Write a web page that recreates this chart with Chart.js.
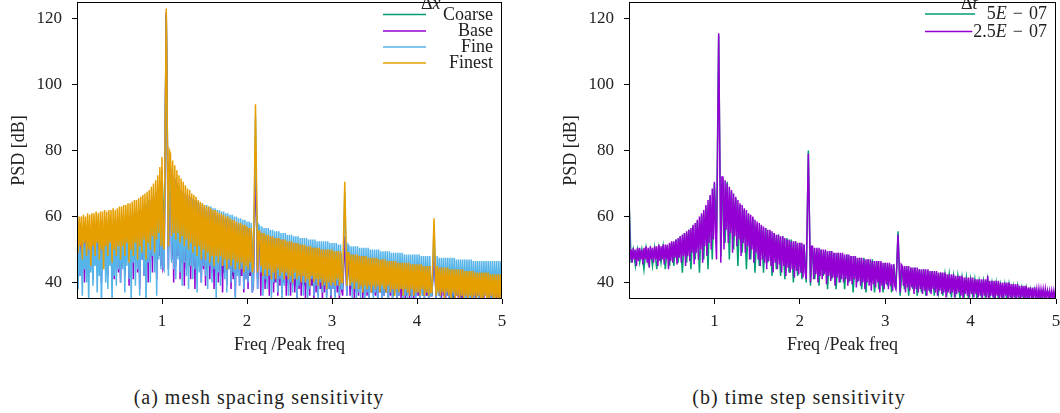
<!DOCTYPE html>
<html>
<head>
<meta charset="utf-8">
<script src="https://cdn.jsdelivr.net/npm/chart.js@4.4.1/dist/chart.umd.min.js"></script>
<style>
  body { margin: 0; background: #fff; width: 1060px; height: 413px; position: relative; overflow: hidden; font-family: "Liberation Serif", serif; }
  canvas { position: absolute; top: 0; }
  #mesh { left: 0; }
  #step { left: 552px; }
  .cap { position: absolute; top: 386px; font-size: 20px; letter-spacing: 1px; color: #222; white-space: nowrap; transform: translateX(-50%); }
</style>
</head>
<body>
<canvas id="mesh" width="515" height="362"></canvas>
<canvas id="step" width="508" height="362"></canvas>
<div class="cap" style="left:259px">(a) mesh spacing sensitivity</div>
<div class="cap" style="left:799px">(b) time step sensitivity</div>
<script>
// frequency bins (Freq / Peak freq), 0 .. 5
const freqFine = Array.from({ length: 401 }, (_, i) => Math.round(i * 125) / 10000);
const freqWide = Array.from({ length: 201 }, (_, i) => Math.round(i * 25) / 1000);
const xTicks = [1, 2, 3, 4, 5];
const yTicks = [40, 60, 80, 100, 120];

// (a) mesh spacing, PSD [dB] on freqFine
const finest = [
  59,49,60,51,60,47,60.5,52,60,48,61,50,60.5,45,61,51,61,48,61.5,52,61,47,61.5,50,61.5,44,62,51,61.5,48,62,52,62,46,62.5,50,62,48,62.5,51,
  63,47,63,51,63.5,48,63.5,52,64,46,64,50,64.5,48,65,52,65,47,65.5,51,66,49,66.5,53,67,47,67.5,52,68,50,69,54,70,49,71,53,72.5,55,75,51,
  78,52,50,86,123,86,51,80,79,54,77,55,75.5,53,74,55,72.5,52,71.5,54,70.5,51,69.5,53,68.5,50,68,52,67,49,66.5,51,66,48,65,51,64.5,47,64,50,
  63.5,47,63,49,63,46,62.5,48,62,45,62,48,61.5,46,61,48,61,45,60.5,47,60,44,60,47,59.5,45,59,47,59,44,58.5,46,58,44,58,46,57.5,43,57.5,45,
  57,44,56.5,46,56.5,43,45,70,94,69,43,55.5,55.5,45,55,42,55,44,54.5,42,54.5,44,54,41,54,43,53.5,41,53.5,44,53.5,42,53,43,53,41,53,43,52.5,41,
  52.5,42,52.5,40,52,43,52,41,52,42,51.5,40,51.5,42,51.5,40,51,41,51,39,51,42,50.5,40,50.5,41,50.5,39,50.5,41,50,39,50,40,50,38,50,40,50,39,
  50,40,49.5,39,49.5,41,49.5,39,49.5,40,40,55,70.5,55,39,49,49,39,48.5,40,48.5,38,48.5,40,48.5,38,48,39,48,37,48,39,48,38,47.5,39,47.5,37,47.5,39,
  47.5,38,47.5,39,47,37,47,39,47,38,47,37,46.5,39,46.5,37,46.5,38,46.5,36,46.5,38,46,37,46,38,46,36,46,38,46,37,46,36,45.5,38,45.5,36,45.5,37,
  45.5,37,45.5,36,45.5,38,45,36,45,37,45,36,45,37,37,48,59.5,48,36,45,37,44.5,36,44.5,37,44.5,35,44.5,37,44.5,36,44,35,44,37,44,35,44,36,44,35,
  44,36,44,35,43.5,36,43.5,35,43.5,36,43.5,34,43.5,36,43,35,43,36,43,34,43,35,43,36,43,34,43,35,42.5,36,42.5,34,42.5,35,42.5,34,42.5,35,42.5,34,
  42.5
];
const fine = [
  50,38,53,42,51,36,54,44,52,40,55,34,53,43,54,39,52,45,55,37,53,42,55,33,54,44,56,40,54,38,56,45,55,34,57,42,55,39,57,44,
  57,40,58,44,58,37,59,45,59,41,60,34,60,46,61,39,61,44,62,36,62,47,63,42,63,33,64,46,65,40,65,48,66,43,67,36,69,47,71,44,
  74,45,44,82,120,82,42,76,74,46,72,44,71,41,70,47,69,43,68,39,67.5,46,67,42,66.5,38,66,45,65.5,41,65,44,65,37,64.5,43,64,40,64,45,
  63.5,42,63.5,38,63,45,63,40,62.5,44,62.5,35,62,43,62,39,61.5,45,61.5,41,61,37,61,44,60.5,40,60.5,43,60,35,60,42,59.5,39,59.5,44,59,38,59,41,
  58.5,40,58.5,43,58,37,40,65,90,65,38,57.5,57,43,57,36,56.5,41,56.5,38,56.5,42,56,35,56,40,55.5,43,55.5,37,55.5,41,55,34,55,39,55,42,54.5,36,
  54.5,40,54.5,37,54,41,54,34,54,39,53.5,42,53.5,36,53.5,40,53.5,33,53,38,53,41,53,36,53,39,52.5,34,52.5,40,52.5,37,52.5,39,52.5,34,52.5,38,52,36,
  52,38,52,35,52,39,51.5,36,51.5,38,38,52,67,52,36,51.5,51,39,51,35,51,38,51,33,51,37,50.5,35,50.5,38,50.5,34,50.5,37,50.5,35,50,38,50,34,
  50,37,50,35,50,38,49.5,34,49.5,36,49.5,38,49.5,33,49.5,37,49,35,49,37,49,34,49,36,49,38,49,34,48.5,36,48.5,35,48.5,37,48.5,33,48.5,36,48.5,35,
  48.5,37,48.5,34,48,36,48,35,48,37,48,33,48,36,36,46,57,46,35,48,36,47.5,35,47.5,37,47.5,34,47.5,36,47.5,35,47.5,33,47.5,36,47.5,34,47,36,47,35,
  47,36,47,34,47,35,47,36,47,33,47,35,46.5,34,46.5,36,46.5,35,46.5,33,46.5,35,46.5,36,46.5,34,46.5,35,46.5,33,46.5,35,46.5,36,46.5,34,46.5,35,46.5,34,
  46.5
];
const base = [
  67,46,55,42,54.5,48,55,40,54.5,47,55,43,55,49,55.5,41,55,46,55.5,44,55.5,48,56,40,55.5,45,56,47,56,42,56.5,49,56,44,56.5,41,56.5,47,57,43,
  57,40,57.5,47,58,42,58.5,48,59,39,59.5,46,60,41,60.5,49,61,43,61.5,38,62,47,62.5,42,63,49,63.5,40,64,46,65,43,66,50,67,41,68.5,48,70.5,45,
  73,44,45,83,122,83,44,76,74,47,72.5,40,71.5,45,70,48,69,41,68,46,67.5,39,67,44,66.5,47,66,41,65.5,45,65,38,64.5,44,64,46,63.5,40,63,44,
  62.5,39,62,45,62,41,61.5,43,61,38,61,44,60.5,40,60.5,42,60,37,59.5,43,59.5,39,59,44,58.5,38,58.5,41,58,36,58,43,57.5,39,57.5,42,57,37,57,41,
  56.5,38,56.5,42,56,37,39,59,79,59,38,55.5,55,36,55,41,54.5,38,54.5,40,54,36,54,41,54,37,53.5,40,53.5,36,53,39,53,37,53,40,52.5,36,52.5,39,
  52.5,36,52,39,52,37,52,35,51.5,38,51.5,36,51.5,39,51,35,51,38,51,36,50.5,39,50.5,35,50.5,37,50.5,36,50,38,50,35,50,37,50,36,49.5,38,49.5,35,
  49.5,38,49.5,36,49,37,49,35,49,38,36,45,54,45,36,49,48.5,36,48.5,38,48.5,35,48.5,37,48,36,48,38,48,35,48,37,48,36,47.5,35,47.5,37,47.5,36,
  47.5,36,47.5,35,47,37,47,35,47,36,46.5,37,46.5,35,46.5,36,46.5,35,46,37,46,35,46,36,46,35,46,37,45.5,35,45.5,36,45.5,35,45.5,36,45.5,35,45.5,36,
  45.5,36,45,35,45,37,45,35,45,36,45,35,44.5,36,36,43,50,43,35,44.5,44.5,36,44.5,35,44,36,44,35,44,36,44,35,44,36,44,35,43.5,36,43.5,35,
  43.5,35.5,43.5,35,43.5,36,43,35,43,36,43,35,43,35.5,43,35,43,36,42.5,35,42.5,35.5,42.5,35,42.5,36,42.5,35,42.5,35.5,42.5,35,42.5,36,42.5,35,42.5,35.5,42.5,35,
  42.5
];
// on freqWide, mostly hidden under the finer meshes
const coarse = [
  36,45,54,47,53,46,54,45,54,48,54,46,55,47,55,46,55,47,55,46,
  56,45,57,46,58,45,59,47,60,46,61,47,62,46,63,48,65,47,68,48,
  74,50,121,50,75,48,71,48,68,46,66,47,65,45,64,46,63,45,62,46,
  61.5,44,61,45,60.5,43,60,44,59.5,43,59,44,58.5,42,58,43,57.5,42,57,43,
  56.5,42,56,42,78,41,54.5,42,54,41,53.5,41,53,40,53,41,52.5,40,52,40,
  52,40,51.5,39,51.5,40,51,39,51,40,50.5,39,50.5,39,50,38,50,39,49.5,38,
  49.5,39,49,38,49,39,53,38,48.5,38,48.5,38,48,38,48,37,47.5,38,47.5,37,
  47.5,37,47,37,47,37,46.5,37,46.5,36,46,37,46,36,46,36,45.5,36,45.5,36,
  45.5,36,45,36,45,36,45,36,49,36,44.5,36,44.5,35,44,36,44,35,44,36,
  43.5,35,43.5,36,43.5,35,43,36,43,35,43,35,42.5,36,42.5,35,42.5,35,42,35,
  42
];

// (b) time step, PSD [dB]
const dt25 = [
  68,47,50,46,50.5,47,50,45,50.5,46.5,50.5,47,50,45.5,50.5,47,51,46,50.5,44.5,51,47,50.5,46,51,47,51,45,51.5,46.5,51,47,51.5,45.5,51.5,47,51.5,44,52,46.5,
  52.5,46,52.5,47.5,53,45.5,53.5,47.5,54,46,54.5,48,55,45,55.5,48,56,46.5,56.5,49,57.5,45.5,58,49,59,47,60,50,61,46,62,51,63.5,48,65,52,66.5,50,68.5,53,
  70.5,55,47,81,115.5,81,46,72,72,50,71,56,70,52,69,55,68,49,67,54,66,51,65,53,64,48,63.5,52,62.5,49,62,51,61,47,60.5,50,60,46,59,49,
  58.5,47,58,45,57.5,47,57,46,56.5,44,56,46.5,56,45,55.5,43,55,46,54.5,44,54.5,45.5,54,43,54,45,53.5,42,53,44.5,53,43,52.5,44,52.5,41.5,52.5,43.5,52,42.5,
  52,43,52,41.5,51.5,43,41,60,79,60,40,51,51,41,50.5,42.5,50.5,40,50.5,42,50,41,50,42.5,50,39.5,49.5,42,49.5,40.5,49.5,41.5,49,39,49,41.5,49,40,49,41,
  49,40,48.5,41,48.5,39,48.5,40.5,48,39.5,48,41,48,38.5,47.5,40.5,47.5,39,47.5,40,47,38,47,40,47,39,47,37.5,46.5,39.5,46.5,38.5,46.5,40,46.5,37,46.5,39,46,38,
  46,39.5,46,38,46,39,45.5,37.5,45.5,39,38,46,54.5,46,37,45.5,45,39,45,37,45,38.5,45,37.5,44.5,38.5,44.5,36.5,44.5,38,44.5,37,44,38,44,36.5,44,37.5,44,36,
  44,37.5,43.5,36.5,43.5,38,43.5,37,43.5,36,43,37.5,43,36.5,43,37,43,35.5,42.5,37,42.5,36.5,42.5,37,42.5,35.5,42,36.5,42,37,42,36,42,35,41.5,36.5,41.5,36,41.5,35.5,
  41.5,36.5,41.5,35.5,41,36.5,41,35.5,41,36,41,35,41,36,41,35.5,42,35,40.5,36,40.5,35.5,40.5,35,40.5,36,40.5,35,40,35.5,40,35,40,36,40,35,40,35.5,39.5,35,
  39.5,35.5,39.5,35,39.5,35.5,39,35,39,35.5,39,35,39,35,38.5,35.5,38.5,35,38.5,35,38.5,35.5,38,35,38,35,38,35.5,38,35,38,35,37.5,35.5,37.5,35,37.5,35,37.5,35,
  37.5
];
// on freqWide, under the 2.5E-07 run
const dt5 = [
  66,46,50,45,50,46,50,44,50.5,46,50,45,50.5,44,50.5,46,51,44,51,45,
  52,45,53,46,54,43,55,46,56,44,57,47,58.5,43,60.5,47,63,44,66,47,
  70,55,115,48,71.5,52,70.5,47,67.5,50,65.5,45,63.5,49,62,44,60.5,47,59.5,43,
  57.5,45,57,43,56.5,46,55.5,42,55,44,54.5,42,54,41,53.5,43,53,40,52.5,42,
  52,41,51.5,40,80,39,50.5,41,50,39,50,42,49.5,38,49.5,41,49,38,49,40,
  48.5,38,48.5,40,48,37,48,40,47.5,38,47.5,37,47,40,47,37,46.5,38,46,37,
  46,39,45.5,37,45.5,38,55.5,36,45,38,45,36,44.5,38,44.5,36,44,37,44,36,
  43.5,37,43.5,36,43,37,43,36,42.5,37,42.5,35.5,42,36.5,42,35,41.5,36,41.5,35,
  41,36,41,35,40.5,36,40.5,35,41,35.5,40,35,40,35,39.5,35,39.5,34,39.5,35,
  39,35,39,34,38.5,35,38.5,34,38,35,38,34,37.5,35,37.5,34,37.5,35,37,34,
  37
];

const TICK_FONT = { family: '"Liberation Serif", serif', size: 17 };
const TITLE_FONT = { family: '"Liberation Serif", serif', size: 18 };
const INK = '#222';

const points = (grid, vals) => {
  if (grid.length !== vals.length) console.error('length mismatch', grid.length, vals.length);
  return vals.map((v, i) => ({ x: grid[i], y: v }));
};

const framePlugin = {
  id: 'frame',
  afterDraw(chart) {
    const { ctx, chartArea: a } = chart;
    ctx.save();
    ctx.strokeStyle = '#000';
    ctx.lineWidth = 1;
    const l = Math.round(a.left) + 0.5, t = Math.round(a.top) + 0.5;
    const r = Math.round(a.right) - 0.5, b = Math.round(a.bottom) - 0.5;
    ctx.strokeRect(l, t, r - l, b - t);
    ctx.restore();
  }
};

// right-aligned label, "E" set in italic like the TeX original; returns left edge
function drawLabel(ctx, text, right, y) {
  const parts = text.split(/(E)/).filter((p) => p.length);
  const fontOf = (p) => (p === 'E' ? 'italic ' : '') + '18px "Liberation Serif"';
  let total = 0;
  parts.forEach((p) => { ctx.font = fontOf(p); total += ctx.measureText(p).width; });
  let x = right - total;
  const left = x;
  ctx.textAlign = 'left';
  parts.forEach((p) => { ctx.font = fontOf(p); ctx.fillText(p, x, y); x += ctx.measureText(p).width; });
  return left;
}

const texLegend = {
  id: 'texLegend',
  afterDraw(chart, args, o) {
    const ctx = chart.ctx;
    ctx.save();
    ctx.fillStyle = INK;
    ctx.textBaseline = 'alphabetic';
    ctx.textAlign = 'left';
    ctx.font = '18px "Liberation Serif"';
    ctx.fillText(o.title[0], o.titleX, o.titleY);
    const w = ctx.measureText(o.title[0]).width;
    ctx.font = 'italic 18px "Liberation Serif"';
    ctx.fillText(o.title[1], o.titleX + w, o.titleY);
    o.order.forEach((di, k) => {
      const ds = chart.data.datasets[di];
      const y = o.rows[k];
      const left = drawLabel(ctx, ds.label, o.textRight, y + 5);
      ctx.strokeStyle = ds.borderColor;
      ctx.lineWidth = 1.5;
      ctx.beginPath();
      ctx.moveTo(o.x0, y);
      ctx.lineTo(Math.min(o.x1, left - 1), y);
      ctx.stroke();
    });
    ctx.restore();
  }
};

function makeChart(id, datasets, rightPad, legend) {
  new Chart(document.getElementById(id), {
    type: 'line',
    data: { datasets },
    options: {
      responsive: false,
      animation: false,
      events: [],
      parsing: false,
      layout: { padding: { left: 0, top: 2, right: rightPad, bottom: 0 } },
      elements: { point: { radius: 0 }, line: { borderWidth: 1.5, tension: 0 } },
      plugins: { legend: { display: false }, tooltip: { enabled: false }, texLegend: legend },
      scales: {
        x: {
          type: 'linear', min: 0, max: 5,
          afterBuildTicks: (s) => { s.ticks = xTicks.map((v) => ({ value: v })); },
          afterFit: (s) => { s.height = 63; s.paddingLeft = 0; s.paddingRight = 0; },
          grid: { drawOnChartArea: false, tickLength: 5, color: '#000' },
          border: { display: false },
          ticks: { font: TICK_FONT, color: INK, padding: 7, maxRotation: 0 },
          title: { display: true, text: 'Freq /Peak freq', font: TITLE_FONT, color: INK, padding: { top: 4, bottom: 6 } }
        },
        y: {
          min: 35, max: 125,
          afterBuildTicks: (s) => { s.ticks = yTicks.map((v) => ({ value: v })); },
          afterFit: (s) => { s.width = 77; s.paddingTop = 0; s.paddingBottom = 0; },
          grid: { drawOnChartArea: false, tickLength: 5, color: '#000' },
          border: { display: false },
          ticks: { font: TICK_FONT, color: INK, padding: 10 },
          title: { display: true, text: 'PSD [dB]', font: TITLE_FONT, color: INK, padding: { top: 8, bottom: 4 } }
        }
      }
    },
    plugins: [framePlugin, texLegend]
  });
}

// first dataset is drawn on top
makeChart('mesh', [
  { label: 'Finest', data: points(freqFine, finest), borderColor: '#E69F00' },
  { label: 'Fine', data: points(freqFine, fine), borderColor: '#56B4E9' },
  { label: 'Base', data: points(freqFine, base), borderColor: '#9400D3' },
  { label: 'Coarse', data: points(freqWide, coarse), borderColor: '#009E73' }
], 13, { title: ['Δ', 'x'], titleX: 421, titleY: 9, x0: 383, x1: 426, textRight: 493, rows: [14.5, 31, 47, 63], order: [3, 2, 1, 0] });

makeChart('step', [
  { label: '2.5E\u2004−\u200407', data: points(freqFine, dt25), borderColor: '#9400D3' },
  { label: '5E\u2004−\u200407', data: points(freqWide, dt5), borderColor: '#009E73' }
], 4, { title: ['Δ', 't'], titleX: 409, titleY: 9, x0: 373, x1: 423, textRight: 495, rows: [14, 31.5], order: [1, 0] });
</script>
</body>
</html>
